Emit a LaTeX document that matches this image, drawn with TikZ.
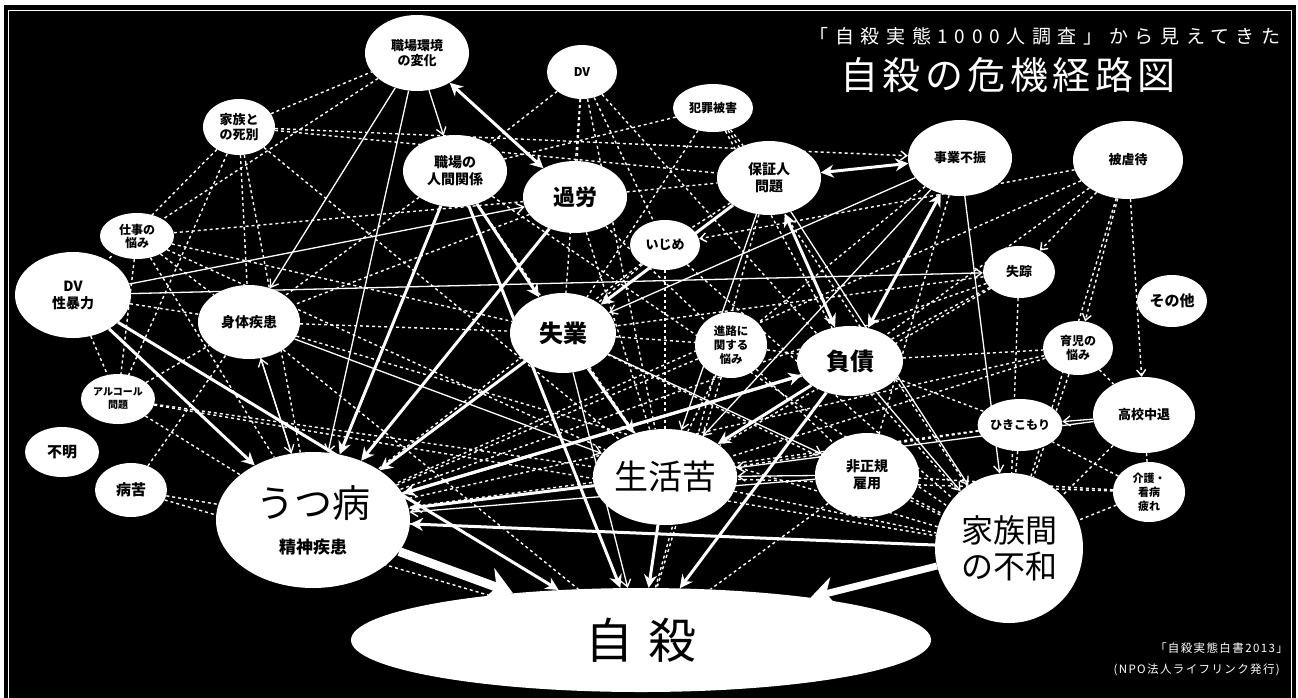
\documentclass[tikz,border=0pt]{standalone}
\usepackage{fontspec}
\newfontfamily\jp{Noto Sans CJK JP}
\newfontfamily\jpsp[LetterSpace=35]{Noto Sans CJK JP}
\newfontfamily\jpt[LetterSpace=12]{Noto Sans CJK JP}
\newfontfamily\jpf[LetterSpace=12]{Noto Sans CJK JP}
\usetikzlibrary{shapes.geometric,arrows.meta}
\pgfdeclarelayer{back}\pgfdeclarelayer{edges}
\pgfsetlayers{back,edges,main}
\tikzset{
 bub/.style={ellipse, fill=white, inner sep=0pt, align=center, text=black, font=\jp\bfseries\fontsize{13}{15}\selectfont},
 dline/.style={white, line width=1.4pt, dash pattern=on 3pt off 3pt},
 dar/.style={dline, -{Straight Barb[length=6pt,width=9pt]}},
 thinar/.style={white, line width=1.3pt, -{Straight Barb[length=7pt,width=10pt]}},
 thickar/.style={white, line width=3pt, -{Stealth[length=13pt,width=13pt]}},
 thickdbl/.style={white, line width=3pt, {Stealth[length=13pt,width=13pt]}-{Stealth[length=13pt,width=13pt]}},
 wtext/.style={text=white, inner sep=0pt},
}
\begin{document}
\begin{tikzpicture}[x=1pt,y=-1pt]
\useasboundingbox (0,0) rectangle (1298,697);
\begin{pgfonlayer}{back}
\fill[white] (0,0) rectangle (1298,697);
\fill[black] (4,5) rectangle (1296,700);
\draw[white, line width=1pt] (8.5,10) rectangle (1291,705);
\end{pgfonlayer}

% title
\node[wtext, font=\jpsp\fontsize{19}{20}\selectfont] (sub) at (1045,36) {「自殺実態1000人調査」から見えてきた};
\node[wtext, font=\jpt\fontsize{38}{40}\selectfont] (title) at (1008,75) {自殺の危機経路図};
\node[wtext, anchor=east, font=\jpf\fontsize{11.5}{12}\selectfont] (src1) at (1288,648) {「自殺実態白書2013」};
\node[wtext, anchor=east, font=\jpf\fontsize{11.5}{12}\selectfont] (src2) at (1280,670) {(NPO法人ライフリンク発行)};

% nodes
\node[bub, minimum width=104pt, minimum height=76pt] (shokuba) at (417,53) {職場環境\\の変化};
\node[bub, minimum width=70pt, minimum height=54pt, font=\jp\bfseries\fontsize{12}{14}\selectfont] (dv) at (582,72) {DV};
\node[bub, minimum width=80pt, minimum height=48pt, font=\jp\bfseries\fontsize{12}{14}\selectfont] (hanzai) at (713,108) {犯罪被害};
\node[bub, minimum width=72pt, minimum height=56pt] (shibetsu) at (239,127) {家族と\\の死別};
\node[bub, minimum width=104pt, minimum height=72pt, font=\jp\bfseries\fontsize{14}{17}\selectfont] (ningen) at (455,171) {職場の\\人間関係};
\node[bub, minimum width=104pt, minimum height=72pt, font=\jp\bfseries\fontsize{22}{24}\selectfont] (karou) at (575,197) {過労};
\node[bub, minimum width=104pt, minimum height=74pt, font=\jp\bfseries\fontsize{14}{17}\selectfont] (hosho) at (769,178) {保証人\\問題};
\node[bub, minimum width=104pt, minimum height=76pt] (jigyo) at (960,158) {事業不振};
\node[bub, minimum width=110pt, minimum height=78pt] (gyaku) at (1128,160) {被虐待};
\node[bub, minimum width=74pt, minimum height=46pt, font=\jp\bfseries\fontsize{12}{13}\selectfont] (shigoto) at (137,236) {仕事の\\悩み};
\node[bub, minimum width=70pt, minimum height=50pt] (ijime) at (665,245) {いじめ};
\node[bub, minimum width=72pt, minimum height=52pt] (shisso) at (1019,272) {失踪};
\node[bub, minimum width=116pt, minimum height=86pt, font=\jp\bfseries\fontsize{14}{17}\selectfont] (dvsei) at (73,295) {DV\\性暴力};
\node[bub, minimum width=102pt, minimum height=74pt, font=\jp\bfseries\fontsize{14}{17}\selectfont] (shintai) at (249,322) {身体疾患};
\node[bub, minimum width=106pt, minimum height=80pt, font=\jp\bfseries\fontsize{24}{26}\selectfont] (shitsugyo) at (563,333) {失業};
\node[bub, minimum width=72pt, minimum height=66pt, font=\jp\bfseries\fontsize{11.5}{14}\selectfont] (shinro) at (731,345) {進路に\\関する\\悩み};
\node[bub, minimum width=106pt, minimum height=70pt, font=\jp\bfseries\fontsize{24}{26}\selectfont] (fusai) at (850,361) {負債};
\node[bub, minimum width=70pt, minimum height=52pt, font=\jp\bfseries\fontsize{15}{17}\selectfont] (sonota) at (1172,301) {その他};
\node[bub, minimum width=70pt, minimum height=54pt, font=\jp\bfseries\fontsize{12}{14}\selectfont] (ikuji) at (1078,348) {育児の\\悩み};
\node[bub, minimum width=74pt, minimum height=50pt, font=\jp\bfseries\fontsize{10}{13}\selectfont] (alcohol) at (118,399) {アルコール\\問題};
\node[bub, minimum width=102pt, minimum height=76pt] (kotai) at (1144,415) {高校中退};
\node[bub, minimum width=74pt, minimum height=52pt, font=\jp\bfseries\fontsize{12}{14}\selectfont] (hiki) at (1020,425) {ひきこもり};
\node[bub, minimum width=74pt, minimum height=50pt, font=\jp\bfseries\fontsize{15}{17}\selectfont] (fumei) at (62,452) {不明};
\node[bub, minimum width=72pt, minimum height=54pt, font=\jp\bfseries\fontsize{15}{17}\selectfont] (byoku) at (131,490) {病苦};
\node[bub, minimum width=194pt, minimum height=136pt, font=\jp\fontsize{38}{40}\selectfont] (utsu) at (313,520) {うつ病\\[-4pt]{\bfseries\fontsize{17}{19}\selectfont 精神疾患}};
\node[bub, minimum width=132pt, minimum height=96pt, font=\jp\fontsize{34}{36}\selectfont] (seikatsu) at (665,477) {生活苦};
\node[bub, minimum width=104pt, minimum height=84pt, font=\jp\bfseries\fontsize{14}{17}\selectfont] (hiseiki) at (867,475) {非正規\\雇用};
\node[bub, minimum width=72pt, minimum height=60pt, font=\jp\bfseries\fontsize{11}{14}\selectfont] (kaigo) at (1149,492) {介護・\\看病\\疲れ};
\node[bub, minimum width=148pt, minimum height=150pt, font=\jp\fontsize{32}{36}\selectfont] (kazoku) at (1009,548) {家族間\\の不和};
\node[bub, minimum width=580pt, minimum height=104pt, font=\jp\fontsize{48}{50}\selectfont] (jisatsu) at (641,640) {自\hspace{16pt}殺};

\begin{pgfonlayer}{edges}
% dashed web
\foreach \a/\b in {shibetsu/shokuba, shibetsu/hosho, shibetsu/utsu, shibetsu/shintai, shibetsu/seikatsu, shibetsu/dvsei, shibetsu/alcohol,
 shokuba/shigoto, dv/karou, dv/shitsugyo, dv/kazoku, dv/seikatsu, dv/ijime, dv/ningen,
 hanzai/ningen, hanzai/fusai, hanzai/hosho, hanzai/shitsugyo, hanzai/kazoku,
 shigoto/shintai, shigoto/utsu, shigoto/shitsugyo, shigoto/karou, shigoto/seikatsu, shigoto/alcohol,
 dvsei/shintai, dvsei/alcohol, ningen/shintai, ningen/seikatsu, ningen/kazoku,
 karou/shintai, karou/hosho, karou/seikatsu, karou/shinro,
 ijime/utsu, ijime/shitsugyo, ijime/kazoku, ijime/seikatsu,
 shisso/kazoku, shisso/fusai, shisso/utsu, shisso/seikatsu, shisso/shitsugyo,
 shintai/shitsugyo, shintai/jisatsu, shintai/kazoku,
 shitsugyo/kazoku, shitsugyo/shinro, shinro/fusai, shinro/utsu, shinro/seikatsu, shinro/jisatsu, shinro/hiseiki,
 fusai/hiki, fusai/ikuji, ikuji/kazoku, ikuji/kotai, ikuji/utsu, ikuji/seikatsu,
 alcohol/utsu, alcohol/seikatsu, alcohol/kazoku, alcohol/shintai,
 byoku/utsu, byoku/shintai, byoku/jisatsu,
 hiki/kazoku, hiki/seikatsu, hiki/utsu, kotai/kazoku, kotai/kaigo,
 kaigo/kazoku, kaigo/seikatsu, kaigo/hiseiki, kaigo/hiki,
 hiseiki/jisatsu, hiseiki/kazoku, seikatsu/kazoku, utsu/kazoku,
 gyaku/fusai, gyaku/kazoku, gyaku/utsu, jigyo/hiseiki, jigyo/shinro, hosho/ijime, hosho/jisatsu}
 {\draw[dline] (\a) -- (\b);}
\foreach \a/\b in {gyaku/shisso, gyaku/ikuji, gyaku/kotai, gyaku/ijime, shibetsu/jigyo}
 {\draw[dar] (\a) -- (\b);}
% thin solid arrows
\foreach \a/\b in {shokuba/ningen, shokuba/shintai, shokuba/utsu, dvsei/shisso, dvsei/karou,
 jigyo/kazoku, jigyo/shitsugyo, jigyo/seikatsu, hosho/seikatsu, hosho/kazoku,
 shitsugyo/hiseiki, shitsugyo/jisatsu, hiseiki/seikatsu, hiseiki/utsu, kotai/hiki, kotai/seikatsu,
 shintai/utsu, utsu/shintai, fusai/kazoku, shintai/seikatsu}
 {\draw[thinar] (\a) -- (\b);}
% thick arrows
\foreach \a/\b in {ningen/shitsugyo, ningen/jisatsu, ningen/utsu, karou/utsu, shitsugyo/utsu, shitsugyo/seikatsu,
 fusai/seikatsu, fusai/jisatsu, fusai/utsu, seikatsu/utsu, seikatsu/jisatsu, kazoku/utsu, dvsei/utsu, dvsei/jisatsu,
 hosho/shitsugyo, utsu/fusai}
 {\draw[thickar] (\a) -- (\b);}
\foreach \a/\b in {shokuba/karou, hosho/jigyo, hosho/fusai, jigyo/fusai}
 {\draw[thickdbl] (\a) -- (\b);}
\draw[white, line width=9pt, -{Stealth[length=26pt,width=34pt]}] (utsu) -- (jisatsu);
\draw[white, line width=7pt, -{Stealth[length=24pt,width=30pt]}] (kazoku) -- (jisatsu);
\end{pgfonlayer}
\end{tikzpicture}
\end{document}
